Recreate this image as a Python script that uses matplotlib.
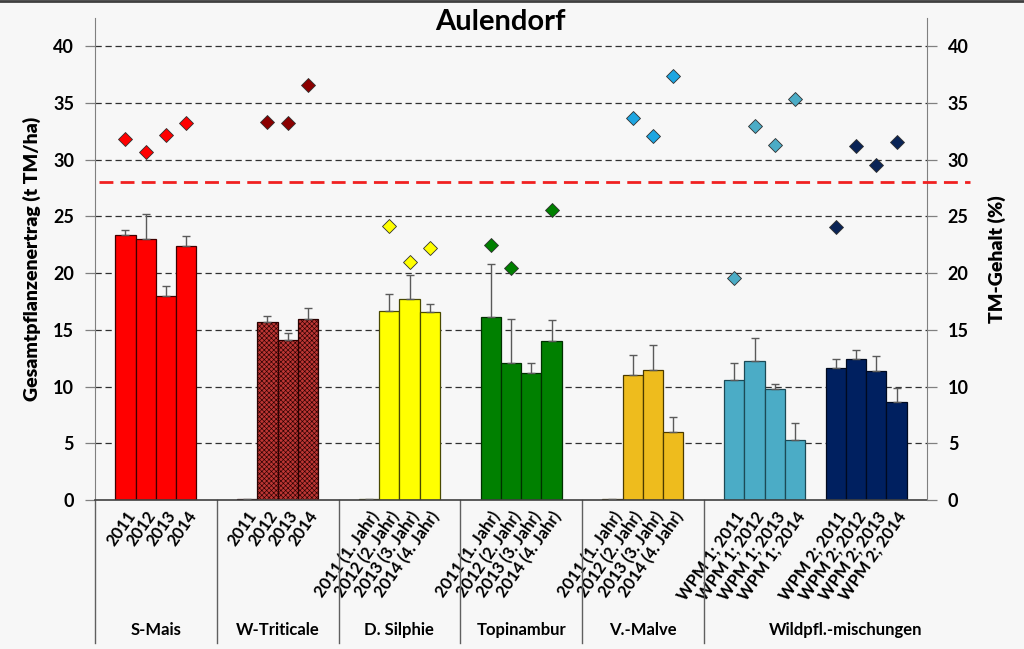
import numpy as np
import matplotlib
matplotlib.use("Agg")
import matplotlib.pyplot as plt
import matplotlib.transforms as mtransforms

plt.rcParams['font.family'] = ['Lato', 'DejaVu Sans']
plt.rcParams['hatch.linewidth'] = 0.45

# ---- data ----
groups = ["S-Mais", "W-Triticale", "D. Silphie", "Topinambur", "V.-Malve",
          "WPM 1", "WPM 2"]
group_labels = ["S-Mais", "W-Triticale", "D. Silphie", "Topinambur", "V.-Malve",
                "Wildpfl.-mischungen"]

years = ["2011", "2012", "2013", "2014"]
jahr = ["2011 (1. Jahr)", "2012 (2. Jahr)", "2013 (3. Jahr)", "2014 (4. Jahr)"]
wpm1 = ["WPM 1; 2011", "WPM 1; 2012", "WPM 1; 2013", "WPM 1; 2014"]
wpm2 = ["WPM 2; 2011", "WPM 2; 2012", "WPM 2; 2013", "WPM 2; 2014"]
tick_labels = [years, years, jahr, jahr, jahr, wpm1, wpm2]

# Gesamtpflanzenertrag (t TM/ha)
ertrag_smais = [23.4, 23.0, 18.0, 22.4]
ertrag_wtrit = [0.05, 15.7, 14.1, 16.0]
ertrag_silph = [0.05, 16.7, 17.7, 16.6]
ertrag_topin = [16.1, 12.1, 11.2, 14.0]
ertrag_malve = [0.05, 11.0, 11.5, 6.0]
ertrag_wpm1 = [10.6, 12.3, 9.8, 5.3]
ertrag_wpm2 = [11.6, 12.4, 11.4, 8.6]

# upper error (standard deviation)
err_smais = [0.4, 2.2, 0.9, 0.9]
err_wtrit = [None, 0.55, 0.6, 0.95]
err_silph = [None, 1.5, 2.1, 0.7]
err_topin = [4.7, 3.9, 0.9, 1.9]
err_malve = [None, 1.8, 2.2, 1.3]
err_wpm1 = [1.45, 2.0, 0.45, 1.45]
err_wpm2 = [0.8, 0.8, 1.3, 1.3]

# TM-Gehalt (%)
tm_smais = [31.8, 30.7, 32.2, 33.2]
tm_wtrit = [None, 33.3, 33.2, 36.6]
tm_silph = [None, 24.2, 21.0, 22.2]
tm_topin = [22.5, 20.5, None, 25.6]
tm_malve = [None, 33.7, 32.1, 37.4]
tm_wpm1 = [19.6, 33.0, 31.3, 35.4]
tm_wpm2 = [24.1, 31.2, 29.5, 31.6]

tm_grenze = 28.0

ertrag = [ertrag_smais, ertrag_wtrit, ertrag_silph, ertrag_topin,
          ertrag_malve, ertrag_wpm1, ertrag_wpm2]
errs = [err_smais, err_wtrit, err_silph, err_topin, err_malve, err_wpm1, err_wpm2]
tm = [tm_smais, tm_wtrit, tm_silph, tm_topin, tm_malve, tm_wpm1, tm_wpm2]

bar_colors = ['#FF0000', '#BC3634', '#FFFF00', '#008000', '#EEBC1D',
              '#4BACC6', '#002060']
bar_edges = ['#400000', '#2a0000', '#4a4a00', '#003000', '#4a3a00',
             '#1c4a56', '#000a20']
hatches = [None, 'xxxxxxx', None, None, None, None, None]
dia_colors = ['#FF0000', '#8B0000', '#FFFF00', '#008000', '#1EA6E2',
              '#4BACC6', '#0A2456']

# ---- layout ----
starts = [0, 6, 12, 18, 24, 30, 35]
seps = [-1.5, 4.5, 10.5, 16.5, 22.5, 28.5]
group_x = [1.5, 7.5, 13.5, 19.5, 25.5, 35.5]

fig = plt.figure(figsize=(10.24, 6.49), dpi=100)
fig.patch.set_facecolor('#F7F7F7')
ax = fig.add_axes([95 / 1024, 149 / 649, 832 / 1024, 482 / 649])
ax.set_facecolor('#F7F7F7')
ax2 = ax.twinx()

for yv in range(5, 45, 5):
    ax.axhline(yv, color='#303030', lw=0.9, ls=(0, (5, 3)), zorder=0)

all_x = []
all_lab = []
for i in range(len(groups)):
    xs = np.arange(4) + starts[i]
    vals = np.array(ertrag[i], dtype=float)
    ax.bar(xs, vals, width=1.0, color=bar_colors[i], edgecolor=bar_edges[i],
           hatch=hatches[i], linewidth=0.9, zorder=2)
    e = np.array([np.nan if v is None else v for v in errs[i]])
    ax.errorbar(xs, vals, yerr=[np.zeros(4), e], fmt='none', ecolor='#5a5a5a',
                elinewidth=1.0, capsize=3, capthick=1.0, zorder=3)
    t = np.array([np.nan if v is None else v for v in tm[i]])
    ax2.plot(xs, t, ls='none', marker='D', ms=7, mfc=dia_colors[i],
             mec='#303030', mew=0.6, zorder=4)
    all_x += list(xs)
    all_lab += tick_labels[i]

ax.set_xlim(-1.5, 39.5)
ax.set_ylim(0, 42.5)
ax2.set_ylim(0, 42.5)
ax.set_yticks(range(0, 45, 5))
ax2.set_yticks(range(0, 45, 5))
ax.set_xticks(all_x)
ax.set_xticklabels(all_lab, rotation=55, ha='right', va='top',
                   rotation_mode='anchor', fontsize=12, fontweight='bold')
ax.tick_params(axis='x', length=0, pad=6)
ax.tick_params(axis='y', direction='out', length=7, width=0.9, color='#808080',
               labelsize=13, pad=8)
ax2.tick_params(axis='y', direction='out', length=7, width=0.9, color='#808080',
                labelsize=13, pad=8)
for lab in ax.get_yticklabels() + ax2.get_yticklabels():
    lab.set_fontweight('bold')

for a in (ax, ax2):
    a.spines['top'].set_visible(False)
    a.spines['left'].set_color('#808080')
    a.spines['right'].set_color('#808080')
    a.spines['bottom'].set_color('#404040')
    a.spines['bottom'].set_linewidth(1.2)
ax2.spines['left'].set_visible(False)
ax.spines['right'].set_visible(False)
ax2.spines['bottom'].set_visible(False)

# red dashed 28 % line, reaching past the right axis
ax2.axhline(tm_grenze, xmin=0.005, xmax=1.052, color='#F02020', lw=2,
            ls=(0, (5, 2.6)), clip_on=False, zorder=5)

# group separators and labels below the axis
trans = mtransforms.blended_transform_factory(ax.transData, ax.transAxes)
for s in seps:
    ax.plot([s, s], [0, -0.297], transform=trans, color='#606060', lw=1.0,
            clip_on=False)
for gx, gl in zip(group_x, group_labels):
    ax.text(gx, -0.27, gl, transform=trans, ha='center', va='center',
            fontsize=12, fontweight='bold')

ax.set_ylabel('Gesamtpflanzenertrag (t TM/ha)', fontsize=14, fontweight='heavy',
              labelpad=9)
ax2.set_ylabel('TM-Gehalt (%)', fontsize=14, fontweight='heavy', labelpad=14)
fig.text(500 / 1024, 1 - 22 / 649, 'Aulendorf', ha='center', va='center',
         fontsize=21, fontweight='bold')
fig.add_artist(plt.Line2D([0, 1], [0.998, 0.998], color='#404040', lw=2))

fig.savefig('out.png', dpi=100, facecolor=fig.get_facecolor())
